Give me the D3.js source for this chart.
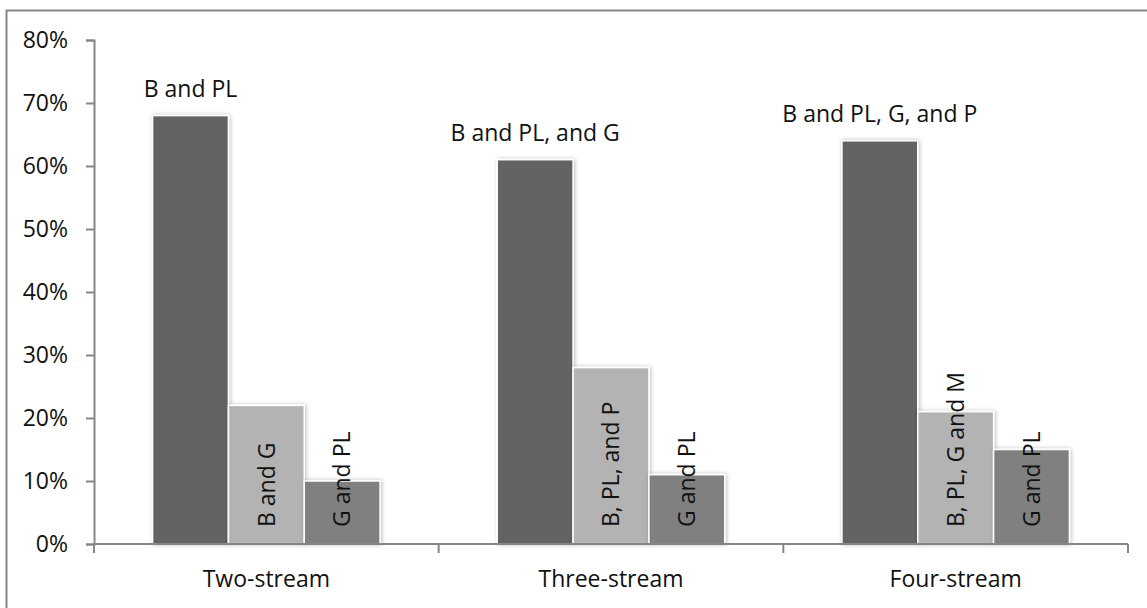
<!DOCTYPE html>
<html>
<head>
<meta charset="utf-8">
<script src="https://cdn.jsdelivr.net/npm/d3@7/dist/d3.min.js"></script>
<style>
  html, body { margin: 0; padding: 0; background: #fff; }
  svg { display: block; font-family: "Open Sans", sans-serif; }
</style>
</head>
<body>
<svg id="chart" width="1147" height="608"></svg>
<script>
// Stream configurations and the share of the top three combinations in each
const categories = ["Two-stream", "Three-stream", "Four-stream"];
const seriesKeys = ["first", "second", "third"];
const firstValues  = [0.68, 0.61, 0.64];
const secondValues = [0.22, 0.28, 0.21];
const thirdValues  = [0.10, 0.11, 0.15];
const firstLabels  = ["B and PL", "B and PL, and G", "B and PL, G, and P"];
const secondLabels = ["B and G", "B, PL, and P", "B, PL, G and M"];
const thirdLabels  = ["G and PL", "G and PL", "G and PL"];
const yTicks = [0, 0.1, 0.2, 0.3, 0.4, 0.5, 0.6, 0.7, 0.8];

const seriesValues = [firstValues, secondValues, thirdValues];
const seriesLabels = [firstLabels, secondLabels, thirdLabels];
const seriesColors = ["#636363", "#b3b3b3", "#808080"];

const rows = [];
categories.forEach((c, i) => {
  seriesKeys.forEach((k, j) => {
    rows.push({ category: c, key: k, s: j, value: seriesValues[j][i], label: seriesLabels[j][i] });
  });
});

const svg = d3.select("#chart");
const plotLeft = 94, plotRight = 1128, plotTop = 40, plotBottom = 544;
const axisColor = "#868686";
const fontSize = 23;

// Outer chart frame
svg.append("rect")
  .attr("x", 6.5).attr("y", 10.5)
  .attr("width", 1150).attr("height", 610)
  .attr("fill", "none").attr("stroke", axisColor).attr("stroke-width", 2);

const defs = svg.append("defs");
const f = defs.append("filter").attr("id", "barShadow")
  .attr("x", "-20%").attr("y", "-10%").attr("width", "140%").attr("height", "120%");
f.append("feDropShadow").attr("dx", 1).attr("dy", 0).attr("stdDeviation", 2.2)
  .attr("flood-color", "#000").attr("flood-opacity", 0.28);

const y = d3.scaleLinear().domain([0, 0.8]).range([plotBottom, plotTop]);
const x0 = d3.scaleBand().domain(categories).range([plotLeft, plotRight]).paddingInner(0).paddingOuter(0);
const groupWidth = x0.bandwidth() * 0.66;
const x1 = d3.scaleBand().domain(seriesKeys).range([0, groupWidth]).padding(0);
const groupOffset = (x0.bandwidth() - groupWidth) / 2;

// Y axis
const yAxis = svg.append("g").attr("transform", `translate(${plotLeft},0)`)
  .call(d3.axisLeft(y).tickValues(yTicks).tickFormat(d3.format(".0%")).tickSize(8).tickPadding(18));
yAxis.select(".domain").attr("stroke", axisColor).attr("stroke-width", 2);
yAxis.selectAll(".tick line").attr("stroke", axisColor).attr("stroke-width", 2);
yAxis.selectAll(".tick text").attr("font-size", fontSize).attr("fill", "#111")
  .attr("font-family", "'Open Sans', sans-serif");

// Bars
const bars = svg.append("g");
bars.selectAll("rect").data(rows).enter().append("rect")
  .attr("x", d => x0(d.category) + groupOffset + x1(d.key))
  .attr("y", d => y(d.value))
  .attr("width", x1.bandwidth())
  .attr("height", d => y(0) - y(d.value))
  .attr("fill", d => seriesColors[d.s])
  .attr("stroke", "#fff").attr("stroke-width", 1.5)
  .attr("filter", "url(#barShadow)");

// X axis with boundary ticks between categories
const xAxis = svg.append("g").attr("transform", `translate(0,${plotBottom})`);
xAxis.append("line").attr("x1", plotLeft).attr("x2", plotRight).attr("y1", 0).attr("y2", 0)
  .attr("stroke", axisColor).attr("stroke-width", 2);
const boundaries = categories.map(c => x0(c)).concat([plotRight]);
xAxis.selectAll("line.b").data(boundaries).enter().append("line").attr("class", "b")
  .attr("x1", d => d).attr("x2", d => d).attr("y1", 0).attr("y2", 9)
  .attr("stroke", axisColor).attr("stroke-width", 2);
xAxis.selectAll("text").data(categories).enter().append("text")
  .attr("x", d => x0(d) + x0.bandwidth() / 2)
  .attr("y", 43)
  .attr("text-anchor", "middle")
  .attr("font-size", fontSize).attr("fill", "#111")
  .text(d => d);

// Labels: first series above the bar, others rotated inside the bar
const labels = svg.append("g").attr("font-size", fontSize).attr("fill", "#111");
labels.selectAll("text.top").data(rows.filter(d => d.s === 0)).enter().append("text")
  .attr("class", "top")
  .attr("x", d => x0(d.category) + groupOffset + x1(d.key) + x1.bandwidth() / 2)
  .attr("y", d => y(d.value) - 19)
  .attr("text-anchor", "middle")
  .text(d => d.label);
labels.selectAll("text.in").data(rows.filter(d => d.s > 0)).enter().append("text")
  .attr("class", "in")
  .attr("transform", d => {
    const cx = x0(d.category) + groupOffset + x1(d.key) + x1.bandwidth() / 2;
    return `translate(${cx},${y(0) - 17}) rotate(-90)`;
  })
  .attr("dy", "0.36em")
  .attr("text-anchor", "start")
  .text(d => d.label);
</script>
</body>
</html>
